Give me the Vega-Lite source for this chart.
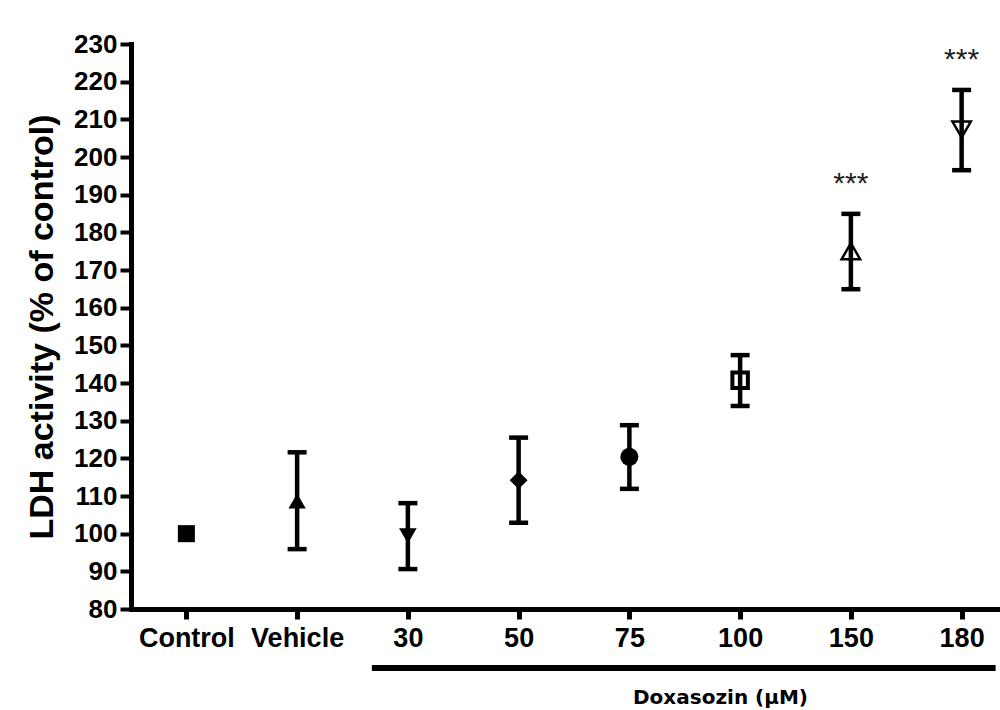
{
  "$schema": "https://vega.github.io/schema/vega-lite/v6.json",
  "width": 869,
  "height": 565,
  "autosize": {"type": "none"},
  "padding": {"left": 131, "top": 44, "right": 0, "bottom": 101},
  "background": "white",
  "config": {
    "view": {"stroke": null},
    "font": "Liberation Sans",
    "axisY": {
      "titleFont": "Liberation Sans",
      "titleFontSize": 34,
      "titleFontWeight": "bold",
      "titleColor": "black",
      "titlePadding": 14,
      "labelFont": "Liberation Sans",
      "labelFontSize": 26,
      "labelFontWeight": "bold",
      "labelColor": "black",
      "labelPadding": 3,
      "labelOverlap": false,
      "labelFlush": false,
      "tickSize": 11,
      "tickWidth": 4,
      "tickColor": "black",
      "domainColor": "black",
      "domainWidth": 5,
      "domainCap": "square",
      "grid": false
    }
  },
  "data": {
    "values": [
      {"group": "Control", "mean": 100, "lo": null, "hi": null, "sig": ""},
      {"group": "Vehicle", "mean": 108.7, "lo": 95.9, "hi": 121.6, "sig": ""},
      {"group": "30", "mean": 99.4, "lo": 90.6, "hi": 108.1, "sig": ""},
      {"group": "50", "mean": 114.2, "lo": 102.9, "hi": 125.5, "sig": ""},
      {"group": "75", "mean": 120.4, "lo": 111.9, "hi": 128.8, "sig": ""},
      {"group": "100", "mean": 140.7, "lo": 133.9, "hi": 147.4, "sig": ""},
      {"group": "150", "mean": 175.0, "lo": 164.9, "hi": 184.9, "sig": "***"},
      {"group": "180", "mean": 207.3, "lo": 196.5, "hi": 217.8, "sig": "***"}
    ]
  },
  "encoding": {
    "x": {
      "field": "group",
      "type": "nominal",
      "sort": null,
      "scale": {
        "type": "point",
        "domain": ["Control", "Vehicle", "30", "50", "75", "100", "150", "180"],
        "range": [0, 886],
        "padding": 0.5
      },
      "axis": {
        "title": "Doxasozin (µM)",
        "titleFont": "DejaVu Sans",
        "titleFontSize": 20,
        "titleFontWeight": "bold",
        "titleColor": "black",
        "titleX": 589,
        "titleY": 88,
        "titleBaseline": "middle",
        "titleAlign": "center",
        "labelAngle": 0,
        "labelFont": "Liberation Sans",
        "labelFontSize": 27,
        "labelFontWeight": "bold",
        "labelColor": "black",
        "labelPadding": 6,
        "tickSize": 10,
        "tickWidth": 5,
        "tickColor": "black",
        "domainColor": "black",
        "domainWidth": 5,
        "domainCap": "square",
        "grid": false
      }
    }
  },
  "layer": [
    {
      "transform": [{"filter": "datum.group == 'Control' || datum.group == 'Vehicle' || datum.group == '30' || datum.group == '50' || datum.group == '75'"}],
      "mark": {"type": "point", "filled": true, "color": "black", "opacity": 1},
      "encoding": {
        "y": {
          "field": "mean",
          "type": "quantitative",
          "scale": {"domain": [80, 230], "nice": false, "zero": false},
          "axis": {
            "values": [80, 90, 100, 110, 120, 130, 140, 150, 160, 170, 180, 190, 200, 210, 220, 230],
            "title": "LDH activity (% of control)"
          }
        },
        "shape": {
          "field": "group",
          "type": "nominal",
          "scale": {
            "domain": ["Control", "Vehicle", "30", "50", "75"],
            "range": ["square", "triangle-up", "triangle-down", "diamond", "circle"]
          },
          "legend": null
        },
        "size": {
          "field": "group",
          "type": "nominal",
          "scale": {
            "domain": ["Control", "Vehicle", "30", "50", "75"],
            "range": [290, 330, 330, 210, 190]
          },
          "legend": null
        }
      }
    },
    {
      "transform": [{"filter": "datum.group == '100'"}],
      "mark": {"type": "point", "shape": "square", "size": 240, "filled": false, "fill": "white", "stroke": "black", "strokeWidth": 4, "opacity": 1},
      "encoding": {
        "y": {
          "field": "mean",
          "type": "quantitative",
          "axis": {
            "values": [80, 90, 100, 110, 120, 130, 140, 150, 160, 170, 180, 190, 200, 210, 220, 230],
            "title": "LDH activity (% of control)"
          }
        }
      }
    },
    {
      "transform": [{"filter": "datum.group == '150'"}],
      "mark": {"type": "point", "shape": "triangle-up", "size": 340, "filled": false, "fill": "white", "stroke": "black", "strokeWidth": 2.5, "opacity": 1},
      "encoding": {
        "y": {
          "field": "mean",
          "type": "quantitative",
          "axis": {
            "values": [80, 90, 100, 110, 120, 130, 140, 150, 160, 170, 180, 190, 200, 210, 220, 230],
            "title": "LDH activity (% of control)"
          }
        }
      }
    },
    {
      "transform": [{"filter": "datum.group == '180'"}],
      "mark": {"type": "point", "shape": "triangle-down", "size": 340, "filled": false, "fill": "white", "stroke": "black", "strokeWidth": 2.5, "opacity": 1},
      "encoding": {
        "y": {
          "field": "mean",
          "type": "quantitative",
          "axis": {
            "values": [80, 90, 100, 110, 120, 130, 140, 150, 160, 170, 180, 190, 200, 210, 220, 230],
            "title": "LDH activity (% of control)"
          }
        }
      }
    },
    {
      "mark": {"type": "rule", "color": "black", "strokeWidth": 4.5},
      "encoding": {
        "y": {
          "field": "lo",
          "type": "quantitative",
          "axis": {
            "values": [80, 90, 100, 110, 120, 130, 140, 150, 160, 170, 180, 190, 200, 210, 220, 230],
            "title": "LDH activity (% of control)"
          }
        },
        "y2": {"field": "hi"}
      }
    },
    {
      "mark": {"type": "tick", "color": "black", "size": 19, "thickness": 4.5, "orient": "horizontal", "opacity": 1},
      "encoding": {
        "y": {
          "field": "lo",
          "type": "quantitative",
          "axis": {
            "values": [80, 90, 100, 110, 120, 130, 140, 150, 160, 170, 180, 190, 200, 210, 220, 230],
            "title": "LDH activity (% of control)"
          }
        }
      }
    },
    {
      "mark": {"type": "tick", "color": "black", "size": 19, "thickness": 4.5, "orient": "horizontal", "opacity": 1},
      "encoding": {
        "y": {
          "field": "hi",
          "type": "quantitative",
          "axis": {
            "values": [80, 90, 100, 110, 120, 130, 140, 150, 160, 170, 180, 190, 200, 210, 220, 230],
            "title": "LDH activity (% of control)"
          }
        }
      }
    },
    {
      "mark": {"type": "text", "font": "Liberation Sans", "fontSize": 30, "color": "#222222", "dy": -21, "baseline": "alphabetic", "align": "center"},
      "encoding": {
        "y": {
          "field": "hi",
          "type": "quantitative",
          "axis": {
            "values": [80, 90, 100, 110, 120, 130, 140, 150, 160, 170, 180, 190, 200, 210, 220, 230],
            "title": "LDH activity (% of control)"
          }
        },
        "text": {"field": "sig", "type": "nominal"}
      }
    },
    {
      "data": {"values": [{"from": "30", "to": "180"}]},
      "mark": {"type": "rule", "color": "black", "strokeWidth": 6, "xOffset": -36, "x2Offset": 34, "yOffset": 59},
      "encoding": {
        "x": {"field": "from", "type": "nominal"},
        "x2": {"field": "to"},
        "y": {
          "datum": 80,
          "type": "quantitative",
          "axis": {
            "values": [80, 90, 100, 110, 120, 130, 140, 150, 160, 170, 180, 190, 200, 210, 220, 230],
            "title": "LDH activity (% of control)"
          }
        }
      }
    }
  ]
}
